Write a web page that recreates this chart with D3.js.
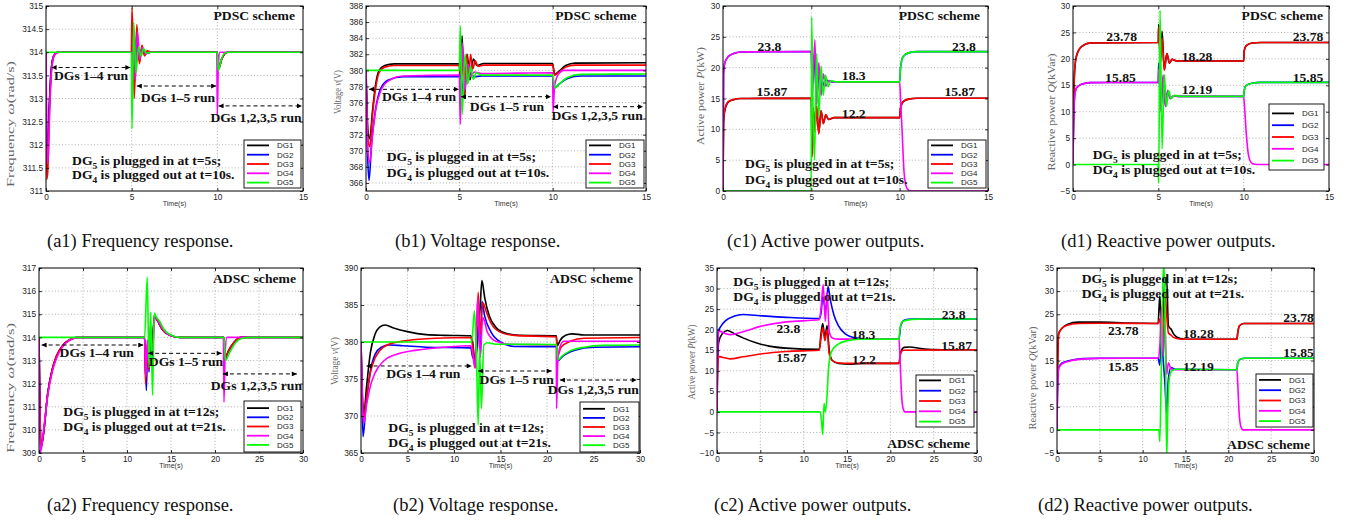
<!DOCTYPE html>
<html><head><meta charset="utf-8">
<script src="https://cdn.jsdelivr.net/npm/d3@7"></script>
<style>body{margin:0;background:#fff}svg{display:block}text{white-space:pre}</style>
</head><body>
<svg id="chart" width="1356" height="521"></svg>
<script>
// ===================== DATA =====================
const seriesNames = ["DG1","DG2","DG3","DG4","DG5"];

// ---- tick labels ----
const a1_xTicks = [0,5,10,15];
const a1_yTicks = [311,311.5,312,312.5,313,313.5,314,314.5,315];
const b1_yTicks = [366,368,370,372,374,376,378,380,382,384,386,388];
const c1_yTicks = [0,5,10,15,20,25,30];
const d1_yTicks = [-5,0,5,10,15,20,25,30];
const a2_xTicks = [0,5,10,15,20,25,30];
const a2_yTicks = [309,310,311,312,313,314,315,316,317];
const b2_yTicks = [365,370,375,380,385,390];
const c2_yTicks = [-10,-5,0,5,10,15,20,25,30,35];
const d2_yTicks = [-5,0,5,10,15,20,25,30,35];

// ---- (a1) frequency, PDSC ----
const a1_DG1 = [[0,314],[0.05,311.6],[0.1,311.8],[0.2,312.9],[0.3,313.6],[0.45,313.92],[0.7,314],[5,314],[5.05,314.4],[5.15,313.3],[5.3,314.4],[5.45,313.8],[5.6,314.1],[5.8,313.97],[6.1,314],[10,314],[10.08,313.65],[10.25,313.85],[10.6,314],[15,314]];
const a1_DG2 = [[0,314],[0.05,311.7],[0.1,311.9],[0.2,312.9],[0.3,313.6],[0.45,313.92],[0.7,314],[5,314],[5.05,314.3],[5.15,313.4],[5.3,314.3],[5.45,313.85],[5.6,314.08],[5.8,313.97],[6.1,314],[10,314],[10.08,313.65],[10.25,313.85],[10.6,314],[15,314]];
const a1_DG3 = [[0,314],[0.04,311.25],[0.1,311.4],[0.2,312.7],[0.3,313.5],[0.45,313.9],[0.7,314],[4.98,314],[5.02,314.95],[5.08,314.2],[5.15,313.0],[5.3,314.6],[5.45,313.75],[5.6,314.15],[5.75,313.92],[5.9,314.03],[6.2,314],[10,314],[10.08,313.65],[10.25,313.85],[10.6,314],[15,314]];
const a1_DG4 = [[0,314],[0.08,311.6],[0.14,311.8],[0.22,312.8],[0.32,313.6],[0.5,313.95],[0.8,314],[5,314],[5.05,313.4],[5.12,314.5],[5.22,313.4],[5.33,314.45],[5.47,313.85],[5.62,314.1],[5.8,313.97],[6,314],[9.97,314],[10.0,312.65],[10.05,313.6],[10.15,314],[15,314]];
const a1_DG5 = [[0,314],[4.98,314],[5.02,312.35],[5.12,314.65],[5.25,313.55],[5.4,314.12],[5.55,313.92],[5.7,314.08],[5.85,313.98],[6.1,314],[10,314],[10.06,313.6],[10.2,313.8],[10.4,313.97],[10.7,314],[15,314]];

// ---- (b1) voltage, PDSC ----
const b1_DG1 = [[0,380],[0.12,372],[0.2,371.5],[0.35,375],[0.5,378],[0.7,380],[1,380.6],[1.5,380.8],[5,380.8],[5.05,379],[5.15,384.3],[5.27,376.5],[5.42,382],[5.57,378.8],[5.75,381.4],[5.95,380.6],[6.3,380.85],[10,380.85],[10.1,379.5],[10.3,379.8],[10.7,380.6],[11.2,380.9],[15,380.95]];
const b1_DG2 = [[0,380],[0.08,370],[0.16,366.3],[0.3,371],[0.5,375],[0.8,377.8],[1.2,378.8],[2,379.2],[5,379.2],[5.05,381],[5.15,377],[5.3,380.5],[5.45,378.8],[5.6,379.6],[5.8,379.2],[6.2,379.3],[10,379.3],[10.1,377.8],[10.3,378.2],[10.8,379],[11.5,379.3],[15,379.3]];
const b1_DG3 = [[0,380],[0.1,371.5],[0.2,370.5],[0.35,374.5],[0.5,377.5],[0.7,379.7],[1,380.4],[1.5,380.6],[5,380.6],[5.05,379.5],[5.15,383],[5.28,377],[5.4,382],[5.5,378.8],[5.6,382],[5.72,380.2],[5.85,381.2],[6.0,380.5],[6.3,380.65],[10,380.65],[10.1,379.4],[10.3,379.7],[10.7,380.4],[11.2,380.65],[15,380.65]];
const b1_DG4 = [[0,380],[0.1,370],[0.2,368.5],[0.35,372],[0.55,375.5],[0.8,377.5],[1.2,378.7],[2,379.3],[5,379.4],[5.05,373.3],[5.15,383.5],[5.3,377.5],[5.45,380.8],[5.6,379.2],[5.8,379.8],[6.2,379.6],[10,379.7],[10.02,374.8],[10.1,378],[10.3,379.5],[10.6,380],[15,380]];
const b1_DG5 = [[0,380],[5,380],[5.05,385.5],[5.15,374.5],[5.3,382],[5.45,378.3],[5.6,380.5],[5.75,378.9],[5.9,379.7],[6.2,379.4],[10,379.4],[10.12,377.8],[10.35,378.3],[10.8,379.1],[11.5,379.5],[15,379.55]];

// ---- (c1) active power, PDSC ----
const c1_DG1 = [[0,0],[0.03,11],[0.1,13],[0.3,14.4],[0.6,14.8],[1,15],[5,15.05],[5.04,6],[5.12,13],[5.2,10],[5.3,13.5],[5.42,9.5],[5.55,13],[5.68,11],[5.82,12.3],[5.97,11.6],[6.3,11.9],[10,11.9],[10.05,13.5],[10.2,14.5],[10.5,14.9],[11,15.05],[15,15.05]];
const c1_DG2 = [[0,0],[0.03,19],[0.1,20.8],[0.3,21.8],[0.6,22.3],[1,22.55],[5,22.6],[5.05,17],[5.15,22],[5.3,15],[5.45,19.5],[5.6,16.8],[5.8,18],[6.2,17.7],[10,17.7],[10.05,20],[10.2,21.8],[10.5,22.4],[11,22.6],[15,22.6]];
const c1_DG3 = [[0,0],[0.03,11.5],[0.1,13.2],[0.3,14.5],[0.6,14.85],[1,15],[5,15.05],[5.04,5.5],[5.12,13.5],[5.2,9.5],[5.3,13.8],[5.42,9.2],[5.55,13],[5.68,10.9],[5.82,12.4],[5.97,11.6],[6.3,11.9],[10,11.9],[10.05,13.5],[10.2,14.5],[10.5,14.9],[11,15.05],[15,15.05]];
const c1_DG4 = [[0,0],[0.03,19],[0.1,20.8],[0.3,21.8],[0.6,22.3],[1,22.55],[5,22.6],[5.05,15],[5.2,24.5],[5.3,14],[5.42,20.8],[5.55,15.5],[5.68,19],[5.82,17],[6,17.9],[6.3,17.7],[10,17.7],[10.05,15],[10.15,9],[10.25,3],[10.4,0.5],[10.6,0],[15,0]];
const c1_DG5 = [[0,0],[4.99,0],[5.02,28.2],[5.1,12],[5.18,5],[5.3,22.3],[5.42,12],[5.55,20.3],[5.67,15.5],[5.8,18.8],[5.95,16.9],[6.1,17.9],[6.4,17.7],[10,17.7],[10.05,20],[10.2,21.8],[10.5,22.4],[11,22.6],[15,22.6]];

// ---- (d1) reactive power, PDSC ----
const d1_DG1 = [[0,0],[0.03,10],[0.1,18],[0.2,20.5],[0.5,22.3],[1,23],[5,23.1],[5.02,26.5],[5.12,19],[5.22,25.2],[5.35,18],[5.5,21],[5.65,19.2],[5.8,19.9],[6.1,19.6],[10,19.6],[10.03,21.5],[10.15,22.5],[10.5,23],[11,23.1],[15,23.1]];
const d1_DG2 = [[0,0],[0.03,8],[0.1,13],[0.2,14.5],[0.5,15.2],[1,15.5],[5,15.55],[5.02,19.2],[5.15,10.5],[5.28,16.5],[5.42,11],[5.55,14],[5.7,12.5],[5.9,13],[6.2,12.9],[10,12.9],[10.03,14],[10.15,15],[10.5,15.4],[11,15.55],[15,15.55]];
const d1_DG3 = [[0,0],[0.03,10],[0.1,18],[0.2,20.5],[0.5,22.3],[1,23],[5,23.1],[5.02,26],[5.12,20],[5.22,24],[5.35,17.8],[5.5,21],[5.65,19.2],[5.8,19.9],[6.1,19.6],[10,19.6],[10.03,21.5],[10.15,22.5],[10.5,23],[11,23.1],[15,23.1]];
const d1_DG4 = [[0,0],[0.03,8],[0.1,13],[0.2,14.5],[0.5,15.2],[1,15.5],[5,15.55],[5.02,18],[5.15,10],[5.28,17],[5.42,11],[5.55,14],[5.7,12.5],[5.9,13],[6.2,12.9],[10,12.9],[10.05,11],[10.15,6],[10.3,1.5],[10.5,0.2],[10.8,0],[15,0]];
const d1_DG5 = [[0,0],[4.98,0],[5.02,-3.5],[5.1,29.2],[5.22,3],[5.35,17],[5.48,11],[5.6,14],[5.75,12.5],[5.95,13.1],[6.3,12.9],[10,12.9],[10.03,14],[10.15,15],[10.5,15.4],[11,15.55],[15,15.55]];

// ---- (a2) frequency, ADSC ----
const a2_DG1 = [[0,314],[0.1,311],[0.25,309.3],[0.5,309.8],[1,311.6],[1.5,312.6],[2,313.2],[2.7,313.65],[3.5,313.9],[4.5,314],[12,314],[12.1,312.4],[12.25,313.5],[12.4,312.8],[12.6,314.2],[12.8,313.2],[13.1,314.9],[13.5,314.7],[14,314.35],[14.8,314.1],[16,314],[21,314],[21.15,313.1],[21.5,313.4],[22.2,313.8],[23,314],[30,314]];
const a2_DG2 = [[0,314],[0.1,311],[0.2,309.2],[0.5,309.8],[1,311.6],[1.5,312.6],[2,313.2],[2.7,313.65],[3.5,313.9],[4.5,314],[12,314],[12.2,311.7],[12.35,313.8],[12.5,312.5],[12.7,314.3],[12.85,313],[13.1,314.95],[13.5,314.7],[14,314.35],[14.8,314.1],[16,314],[21,314],[21.15,313.05],[21.5,313.35],[22.2,313.8],[23,314],[30,314]];
const a2_DG3 = [[0,314],[0.1,311],[0.22,309.2],[0.5,309.8],[1,311.6],[1.5,312.6],[2,313.2],[2.7,313.65],[3.5,313.9],[4.5,314],[12,314],[12.1,312],[12.3,313.7],[12.45,312.6],[12.65,314.3],[12.85,313.1],[13.1,314.9],[13.5,314.7],[14,314.35],[14.8,314.1],[16,314],[21,314],[21.15,313.1],[21.5,313.4],[22.2,313.8],[23,314],[30,314]];
const a2_DG4 = [[0,314],[0.05,311.5],[0.15,309.0],[0.4,309.6],[1,311.5],[1.5,312.5],[2,313.1],[2.7,313.6],[3.5,313.88],[4.5,314],[12,314],[12.15,312.3],[12.3,313.9],[12.45,312.9],[12.65,314.5],[12.85,313.3],[13.2,314.9],[13.5,314.75],[14,314.4],[14.8,314.1],[16,314],[20.95,314],[21.02,311.2],[21.15,313.3],[21.35,314],[30,314]];
const a2_DG5 = [[0,314],[12,314],[12.3,316.6],[12.5,312.7],[12.7,315.1],[12.9,311.5],[13.1,315.05],[13.3,314.9],[13.7,314.7],[14.2,314.35],[15,314.1],[16,314],[21,314],[21.2,313.0],[21.6,313.3],[22.3,313.75],[23.2,313.97],[24,314],[30,314]];

// ---- (b2) voltage, ADSC ----
const b2_DG1 = [[0,380],[0.15,373],[0.3,370.3],[0.6,374],[1,378.5],[1.5,381],[2,382],[2.6,382.3],[3.5,381.9],[5,381.4],[7,381],[9,380.9],[11.8,380.85],[12,380],[12.3,377],[12.6,382],[12.8,384.5],[13,388.3],[13.3,386],[13.8,383.5],[14.5,382],[15.5,381.2],[17,380.9],[21,380.85],[21.1,379.5],[21.4,380.2],[22,380.9],[22.7,381.1],[24,380.95],[30,380.95]];
const b2_DG2 = [[0,380],[0.1,372],[0.22,367.2],[0.5,371],[1,376],[1.5,378.3],[2.2,379.3],[3,379.6],[4.5,379.5],[7,379.3],[11.8,379.2],[12,378],[12.3,377.5],[12.6,382],[12.85,378],[13.0,385.5],[13.3,383.5],[14,381.3],[15,380],[16.5,379.4],[21,379.35],[21.2,377.5],[21.7,378.1],[23,378.9],[25,379.3],[30,379.35]];
const b2_DG3 = [[0,380],[0.15,371],[0.3,369.6],[0.6,372.5],[1,375.8],[1.5,377.8],[2,378.8],[3,379.7],[5,380.2],[8,380.5],[11.8,380.6],[12,379.5],[12.3,376.5],[12.6,386.7],[12.8,381],[13.1,385.3],[13.5,384],[14,382.5],[15,381.3],[16.5,380.9],[21,380.7],[21.1,378],[21.5,379.3],[22.5,380.1],[24,380.5],[30,380.6]];
const b2_DG4 = [[0,380],[0.15,372],[0.3,369],[0.6,371.5],[1,374],[1.5,375.8],[2.5,377.5],[4,378.4],[6,378.9],[9,379.3],[11.8,379.5],[12,378.5],[12.25,376.5],[12.55,386],[12.8,378],[13.1,383.3],[13.6,381.3],[14.5,380.1],[16,379.7],[21,379.6],[21.03,371],[21.15,377],[21.4,379.4],[21.8,380.1],[30,380.1]];
const b2_DG5 = [[0,380],[11.9,380],[12.2,384.2],[12.4,379],[12.6,368.8],[12.75,379],[12.95,371],[13.2,379.6],[13.6,379.9],[14.5,379.7],[21,379.65],[21.2,377.6],[21.6,378.1],[22.5,378.8],[24,379.3],[26,379.55],[30,379.6]];

// ---- (c2) active power, ADSC ----
const c2_DG1 = [[0,0],[0.05,10],[0.2,17],[0.6,19],[1.2,19.8],[2,19],[3,18],[4.5,16.8],[6,16],[8,15.5],[11.8,15.2],[12,19],[12.2,21.5],[12.45,18],[12.7,21],[12.95,15],[13.3,12.5],[14,11.8],[15.5,11.6],[17,11.8],[21,11.8],[21.2,14.5],[21.6,15.7],[22.2,15.8],[23.5,15.4],[25,15.15],[30,15.1]];
const c2_DG2 = [[0,0],[0.05,12],[0.15,19.5],[0.5,21],[1,22.2],[2,23.3],[3,23.7],[5,23.4],[8,23],[11.8,22.7],[12,24],[12.2,28],[12.4,26],[12.6,25],[12.8,30.5],[13.1,27],[13.5,23.5],[14,21],[14.8,19],[16,18],[17.5,17.7],[21,17.7],[21.2,21],[21.6,22.3],[22.5,22.6],[30,22.6]];
const c2_DG3 = [[0,0],[0.05,9],[0.2,13.5],[0.6,13.3],[1.5,12.9],[3,13.4],[5,14.1],[8,14.7],[11.8,15],[12,18],[12.2,20.5],[12.45,17.3],[12.7,20],[12.95,14],[13.3,12.5],[14,11.9],[15.5,11.8],[21,11.8],[21.15,14],[21.5,15],[30,15.1]];
const c2_DG4 = [[0,0],[0.05,12],[0.2,19.8],[0.5,19.5],[1,19],[1.6,18.8],[3,19.5],[5,20.8],[8,21.9],[11.8,22.4],[12,25],[12.25,31],[12.5,22],[12.7,29],[12.95,19.5],[13.3,18],[14,17.7],[21,17.7],[21.1,14],[21.25,6],[21.45,1],[21.7,0],[30,0]];
const c2_DG5 = [[0,0],[11.9,0],[12.05,-2],[12.2,-5.5],[12.35,2],[12.5,0],[12.7,4],[12.85,10],[13.0,13],[13.3,15],[14,16.5],[15,17.3],[16.5,17.7],[21,17.7],[21.1,20],[21.4,22],[22.5,22.5],[24,22.6],[30,22.6]];

// ---- (d2) reactive power, ADSC ----
const d2_DG1 = [[0,0],[0.05,12],[0.2,20.8],[0.6,22],[1.2,22.8],[2.5,23.3],[5,23.3],[8,23.1],[11.8,23],[12,29],[12.15,24],[12.3,23],[12.55,31],[12.8,33],[13.0,22.5],[13.3,21.8],[13.7,20.5],[14.3,19.8],[15,19.6],[21,19.6],[21.1,21],[21.3,22.5],[21.8,23],[30,23]];
const d2_DG2 = [[0,0],[0.05,8],[0.2,13.5],[0.6,14.5],[1.5,15],[3,15.4],[5,15.5],[11.8,15.5],[12,14],[12.2,20],[12.4,15],[12.6,10],[12.8,3.5],[13.0,11],[13.3,13.5],[13.8,13.1],[21,13],[21.1,14.5],[21.4,15.3],[22,15.5],[30,15.5]];
const d2_DG3 = [[0,0],[0.05,12],[0.2,20.8],[0.6,22],[1.2,22.6],[2.5,23],[5,23.05],[11.8,23],[12,24],[12.2,20],[12.4,17.5],[12.6,30],[12.8,25],[13.0,21],[13.3,20.5],[13.7,19.9],[14.5,19.6],[21,19.6],[21.1,21],[21.3,22.5],[21.8,23],[30,23]];
const d2_DG4 = [[0,0],[0.05,8],[0.2,13.3],[0.6,14.3],[1.5,14.9],[3,15.3],[5,15.45],[11.8,15.5],[12,18],[12.2,26.5],[12.4,16],[12.6,23],[12.8,12],[13.0,14.5],[13.3,13.2],[13.8,13],[21,13],[21.1,10],[21.25,4],[21.45,0.8],[21.7,0],[30,0]];
const d2_DG5 = [[0,0],[11.9,0],[12.0,-2.5],[12.15,10],[12.35,32],[12.5,36],[12.65,20],[12.8,-6],[12.95,5],[13.1,11],[13.4,12.8],[14,13.1],[21,13],[21.1,14.5],[21.4,15.3],[22,15.5],[30,15.5]];

// ---- value annotations (text, t, value) ----
const c1_values = [["23.8",2.63,23.5],["15.87",2.77,16.1],["18.3",7.4,18.8],["12.2",7.4,12.6],["23.8",13.64,23.5],["15.87",13.4,16.1]];
const d1_values = [["23.78",2.85,24.2],["15.85",2.78,16.5],["18.28",7.27,20.5],["12.19",7.27,14.2],["23.78",13.77,24.2],["15.85",13.77,16.5]];
const c2_values = [["23.8",8.23,20.33],["15.87",8.6,13.2],["18.3",16.9,18.95],["12.2",16.96,12.8],["23.8",27.3,23.8],["15.87",27.65,16.27]];
const d2_values = [["23.78",7.74,21.6],["15.85",7.74,13.66],["18.28",16.5,20.87],["12.19",16.5,13.8],["23.78",28.2,24.33],["15.85",28.2,16.7]];

// ===================== LAYOUT / STYLE =====================
const COLORS = ["#000000","#0000ff","#ff0000","#ff00ff","#00ff00"];
const SERIF = "'Liberation Serif','Times New Roman',serif";
const SANS = "'Liberation Sans',Arial,Helvetica,sans-serif";
const fmt = d3.format("");

const notesPD = (t0,t1)=>[["5"," is plugged in at t="+t0+"s;"],["4"," is plugged out at t="+t1+"s."]];

const panels = [
 {box:[46,6,303,191], xd:[0,15], yd:[311,315], xt:a1_xTicks, yt:a1_yTicks, series:[a1_DG1,a1_DG2,a1_DG3,a1_DG4,a1_DG5],
  ylab:{parts:[["Frequency ",0],["ω",1],["(rad/s)",0]], x:14, cy:124, len:126},
  cap:{text:"(a1) Frequency response.", x:47, y:247}, scheme:{text:"PDSC scheme", t:14.53, v:314.8},
  note:{t:1.52, v:[311.67,311.35], lines:notesPD(5,10)},
  arrows:[[0.33,4.92,313.67,"DGs 1–4 run",2.63,313.49],[5.3,9.93,313.27,"DGs 1–5 run",7.7,313.03],[10.07,14.94,312.84,"DGs 1,2,3,5 run",12.26,312.58]],
  values:[], legend:{r:2,b:3,w:57,h:48,dy:9.3}},
 {box:[366,6,646,191], xd:[0,15], yd:[365,388], xt:a1_xTicks, yt:b1_yTicks, series:[b1_DG1,b1_DG2,b1_DG3,b1_DG4,b1_DG5],
  ylab:{parts:[["Voltage ",0],["v",1],["(V)",0]], x:341, cy:92, len:44},
  cap:{text:"(b1) Voltage response.", x:395, y:247}, scheme:{text:"PDSC scheme", t:14.5, v:386.88},
  note:{t:1.11, v:[369.26,367.27], lines:notesPD(5,10)},
  arrows:[[0.16,4.98,377.64,"DGs 1–4 run",2.84,376.72],[5.09,9.91,376.72,"DGs 1–5 run",7.55,375.48],[10.02,14.84,375.48,"DGs 1,2,3,5 run",12.38,374.45]],
  values:[], legend:{r:2,b:3,w:58,h:48,dy:9.3}},
 {box:[723,6,988,191], xd:[0,15], yd:[0,30], xt:a1_xTicks, yt:c1_yTicks, series:[c1_DG1,c1_DG2,c1_DG3,c1_DG4,c1_DG5],
  ylab:{parts:[["Active power ",0],["P",1],["(kW)",0]], x:704, cy:96, len:98},
  cap:{text:"(c1) Active power outputs.", x:727, y:247}, scheme:{text:"PDSC scheme", t:14.55, v:28.54},
  note:{t:1.25, v:[4.5,1.9], lines:notesPD(5,10)},
  arrows:[], values:c1_values, legend:{r:2,b:3,w:58,h:48,dy:9.3}},
 {box:[1073,6,1329,191], xd:[0,15], yd:[-5,30], xt:a1_xTicks, yt:d1_yTicks, series:[d1_DG1,d1_DG2,d1_DG3,d1_DG4,d1_DG5],
  ylab:{parts:[["Reactive power ",0],["Q",1],["(kVar)",0]], x:1055, cy:112, len:117},
  cap:{text:"(d1) Reactive power outputs.", x:1061, y:247}, scheme:{text:"PDSC scheme", t:14.65, v:28.3},
  note:{t:1.15, v:[2.0,-1.0], lines:notesPD(5,10)},
  arrows:[], values:d1_values, legend:{r:5,b:21,w:55,h:66,dy:11.8}},
 {box:[39,268,303,453], xd:[0,30], yd:[309,317], xt:a2_xTicks, yt:a2_yTicks, series:[a2_DG1,a2_DG2,a2_DG3,a2_DG4,a2_DG5],
  ylab:{parts:[["Frequency ",0],["ω",1],["(rad/s)",0]], x:14, cy:388, len:130},
  cap:{text:"(a2) Frequency response.", x:47, y:511}, scheme:{text:"ADSC scheme", t:29.2, v:316.55},
  note:{t:2.76, v:[310.79,310.14], lines:notesPD(12,21)},
  arrows:[[0.3,11.85,313.67,"DGs 1–4 run",6.56,313.34],[12.4,20.76,313.31,"DGs 1–5 run",16.7,312.95],[20.9,29.3,312.42,"DGs 1,2,3,5 run",24.7,311.9]],
  values:[], legend:{r:2,b:1,w:57,h:51,dy:9.2}},
 {box:[361,268,640,453], xd:[0,30], yd:[365,390], xt:a2_xTicks, yt:b2_yTicks, series:[b2_DG1,b2_DG2,b2_DG3,b2_DG4,b2_DG5],
  ylab:{parts:[["Voltage ",0],["v",1],["(V)",0]], x:338, cy:361, len:48},
  cap:{text:"(b2) Voltage response.", x:393, y:511}, scheme:{text:"ADSC scheme", t:29.25, v:388.6},
  note:{t:2.94, v:[368.47,366.4], lines:notesPD(12,21)},
  arrows:[[0.6,11.9,376.76,"DGs 1–4 run",6.7,375.77],[12.6,20.5,376.08,"DGs 1–5 run",16.74,375.0],[21.4,29.65,374.86,"DGs 1,2,3,5 run",24.98,373.6]],
  values:[], legend:{r:1,b:1,w:59,h:50,dy:9.1}},
 {box:[717,268,977,453], xd:[0,30], yd:[-10,35], xt:a2_xTicks, yt:c2_yTicks, series:[c2_DG1,c2_DG2,c2_DG3,c2_DG4,c2_DG5],
  ylab:{parts:[["Active power ",0],["P",1],["(kW)",0]], x:695, cy:362, len:75},
  cap:{text:"(c2) Active power outputs.", x:714, y:511}, scheme:{text:"ADSC scheme", t:29.2, v:-7.65},
  note:{t:1.88, v:[31.67,28.0], lines:notesPD(12,21)},
  arrows:[], values:c2_values, legend:{r:3,b:26,w:58,h:52,dy:10.3}},
 {box:[1057,268,1314,453], xd:[0,30], yd:[-5,35], xt:a2_xTicks, yt:d2_yTicks, series:[d2_DG1,d2_DG2,d2_DG3,d2_DG4,d2_DG5],
  ylab:{parts:[["Reactive power ",0],["Q",1],["(kVar)",0]], x:1036, cy:378, len:103},
  cap:{text:"(d2) Reactive power outputs.", x:1038, y:511}, scheme:{text:"ADSC scheme", t:29.53, v:-3.1},
  note:{t:2.88, v:[32.77,29.4], lines:notesPD(12,21)},
  arrows:[], values:d2_values, legend:{r:1,b:26,w:57,h:53,dy:10.3}}
];

// ===================== RENDER =====================
const svg = d3.select("#chart");
const defs = svg.append("defs");
defs.append("marker").attr("id","arrowhead").attr("viewBox","0 0 10 10").attr("refX",10).attr("refY",5)
  .attr("markerWidth",6).attr("markerHeight",5).attr("markerUnits","userSpaceOnUse").attr("orient","auto-start-reverse")
  .append("path").attr("d","M0,0 L10,5 L0,10 Z").attr("fill","#000");

const BOLD_SIZE = 13, STRETCH = 1.05;
function boldText(g, px, py, anchor, str){
  return g.append("text").attr("transform",`translate(${px},${py}) scale(${STRETCH},1)`)
    .attr("text-anchor",anchor).attr("dy","0.35em").attr("font-family",SERIF).attr("font-weight","bold")
    .attr("font-size",BOLD_SIZE).attr("fill","#111").text(str);
}

panels.forEach((p,pi)=>{
  const [x0,y0,x1,y1] = p.box;
  const x = d3.scaleLinear().domain(p.xd).range([x0,x1]);
  const y = d3.scaleLinear().domain(p.yd).range([y1,y0]);
  const g = svg.append("g");
  const clipId = "clip"+pi;
  defs.append("clipPath").attr("id",clipId).append("rect").attr("x",x0).attr("y",y0).attr("width",x1-x0).attr("height",y1-y0);

  g.append("rect").attr("x",x0).attr("y",y0).attr("width",x1-x0).attr("height",y1-y0).attr("fill","#fff");

  // grid
  const grid = g.append("g").attr("stroke","#8c8c8c").attr("stroke-width",0.7).attr("stroke-dasharray","1,2.2");
  grid.selectAll(".vg").data(p.xt.filter(t=>t>p.xd[0]&&t<p.xd[1])).join("line")
    .attr("x1",d=>x(d)).attr("x2",d=>x(d)).attr("y1",y0).attr("y2",y1);
  grid.selectAll(".hg").data(p.yt.filter(t=>t>p.yd[0]&&t<p.yd[1])).join("line")
    .attr("y1",d=>y(d)).attr("y2",d=>y(d)).attr("x1",x0).attr("x2",x1);

  // series
  const line = d3.line().x(d=>x(d[0])).y(d=>y(d[1])).curve(d3.curveMonotoneX);
  const sg = g.append("g").attr("clip-path",`url(#${clipId})`);
  p.series.forEach((s,i)=>{
    sg.append("path").attr("d",line(s)).attr("fill","none").attr("stroke",COLORS[i])
      .attr("stroke-width",1.6).attr("stroke-linejoin","round");
  });

  // axes
  const axB = d3.axisBottom(x).tickValues(p.xt).tickFormat(fmt).tickSizeInner(-3).tickSizeOuter(0).tickPadding(3);
  const axL = d3.axisLeft(y).tickValues(p.yt).tickFormat(fmt).tickSizeInner(-3).tickSizeOuter(0).tickPadding(3);
  const axT = d3.axisTop(x).tickValues(p.xt).tickFormat("").tickSizeInner(-3).tickSizeOuter(0);
  const axR = d3.axisRight(y).tickValues(p.yt).tickFormat("").tickSizeInner(-3).tickSizeOuter(0);
  [[axB,`translate(0,${y1})`],[axL,`translate(${x0},0)`],[axT,`translate(0,${y0})`],[axR,`translate(${x1},0)`]].forEach(([ax,tr])=>{
    const a = g.append("g").attr("transform",tr).call(ax);
    a.select(".domain").remove();
    a.selectAll("line").attr("stroke","#000").attr("stroke-width",0.8);
    a.selectAll("text").attr("font-family",SANS).attr("font-size",8.3).attr("fill","#222");
  });

  // frame
  g.append("rect").attr("x",x0).attr("y",y0).attr("width",x1-x0).attr("height",y1-y0)
    .attr("fill","none").attr("stroke","#000").attr("stroke-width",1);

  // x label
  g.append("text").attr("x",(x0+x1)/2).attr("y",y1+15).attr("text-anchor","middle")
    .attr("font-family",SANS).attr("font-size",7).attr("fill","#333").text("Time(s)");

  // y label
  const yl = g.append("text").attr("transform",`translate(${p.ylab.x},${p.ylab.cy}) rotate(-90)`)
    .attr("text-anchor","middle").attr("font-family",SERIF).attr("font-size",9.5).attr("fill","#666")
    .attr("textLength",p.ylab.len).attr("lengthAdjust","spacingAndGlyphs");
  p.ylab.parts.forEach(([s,it])=>yl.append("tspan").attr("font-style",it?"italic":"normal").text(s));

  // caption
  svg.append("text").attr("x",p.cap.x).attr("y",p.cap.y).attr("font-family",SERIF).attr("font-size",18.5)
    .attr("fill","#111").text(p.cap.text);

  // scheme label
  boldText(g, x(p.scheme.t), y(p.scheme.v), "end", p.scheme.text);

  // value labels
  p.values.forEach(([s,t,v])=>boldText(g, x(t), y(v), "middle", s));

  // arrows
  p.arrows.forEach(([t0,t1,v,lab,lt,lv])=>{
    g.append("line").attr("x1",x(t0)).attr("x2",x(t1)).attr("y1",y(v)).attr("y2",y(v))
      .attr("stroke","#000").attr("stroke-width",1).attr("stroke-dasharray","4,3")
      .attr("marker-start","url(#arrowhead)").attr("marker-end","url(#arrowhead)");
    boldText(g, x(lt), y(lv), "middle", lab);
  });

  // notes with subscripts
  p.note.lines.forEach(([sub,rest],k)=>{
    const t = boldText(g, x(p.note.t), y(p.note.v[k]), "start", "");
    t.append("tspan").text("DG");
    t.append("tspan").attr("font-size",9).attr("dy",4).text(sub);
    t.append("tspan").attr("dy",-4).text(rest);
  });

  // legend
  const L = p.legend;
  const lx = x1 - L.r - L.w, ly = y1 - L.b - L.h;
  const lg = g.append("g").attr("transform",`translate(${lx},${ly})`);
  lg.append("rect").attr("width",L.w).attr("height",L.h).attr("fill","#fff").attr("stroke","#000").attr("stroke-width",0.9);
  const top = (L.h - 4*L.dy)/2;
  seriesNames.forEach((nm,i)=>{
    const ry = top + i*L.dy;
    lg.append("line").attr("x1",3).attr("x2",25).attr("y1",ry).attr("y2",ry).attr("stroke",COLORS[i]).attr("stroke-width",1.8);
    lg.append("text").attr("x",33).attr("y",ry).attr("dy","0.35em").attr("font-family",SANS).attr("font-size",8)
      .attr("fill","#222").text(nm);
  });
});
</script>
</body></html>
